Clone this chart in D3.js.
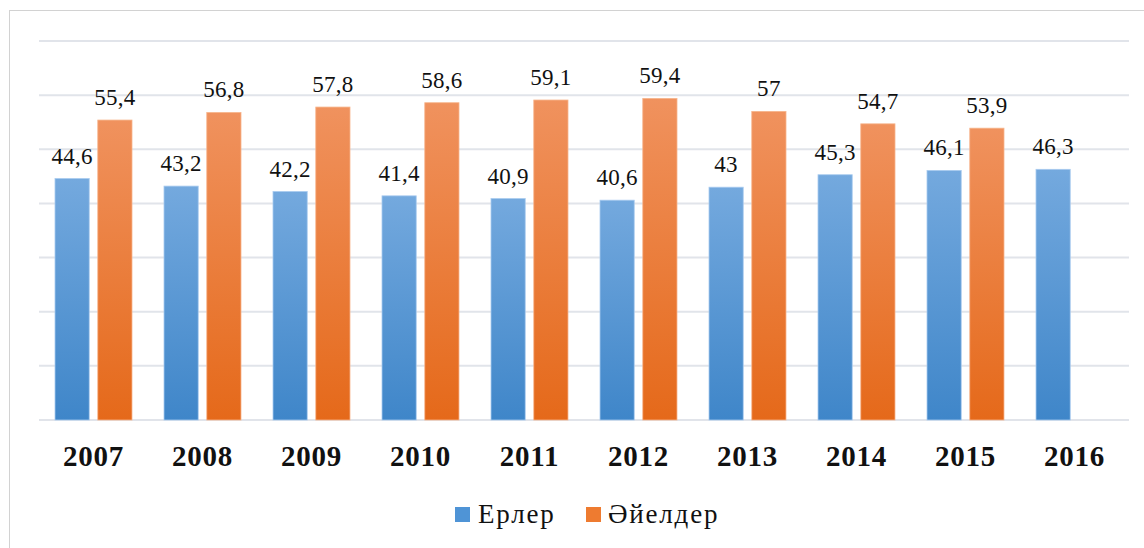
<!DOCTYPE html>
<html>
<head>
<meta charset="utf-8">
<script src="https://cdn.jsdelivr.net/npm/d3@7"></script>
<style>
  body { margin: 0; background: #fff; }
  svg { display: block; }
</style>
</head>
<body>
<svg width="1144" height="548"></svg>
<script>
const years = ["2007", "2008", "2009", "2010", "2011", "2012", "2013", "2014", "2015", "2016"];
const men = [44.6, 43.2, 42.2, 41.4, 40.9, 40.6, 43, 45.3, 46.1, 46.3];
const women = [55.4, 56.8, 57.8, 58.6, 59.1, 59.4, 57, 54.7, 53.9, null];
const seriesNames = ["Ерлер", "Әйелдер"];
const gridTicks = [0, 10, 20, 30, 40, 50, 60, 70];

const FONT = "Liberation Serif";
const svg = d3.select("svg");

// gradients for the bars
const defs = svg.append("defs");
const grads = [
	{ id: "gBlue", top: "#74a9de", bottom: "#3f86c9" },
	{ id: "gOrange", top: "#f0925e", bottom: "#e5691a" },
];
grads.forEach((g) => {
	const lg = defs.append("linearGradient").attr("id", g.id)
		.attr("x1", 0).attr("y1", 0).attr("x2", 0).attr("y2", 1);
	lg.append("stop").attr("offset", "0%").attr("stop-color", g.top);
	lg.append("stop").attr("offset", "100%").attr("stop-color", g.bottom);
});

// outer frame
svg.append("rect")
	.attr("x", 9.5).attr("y", 10.5)
	.attr("width", 1150).attr("height", 560)
	.attr("fill", "none")
	.attr("stroke", "#d2d2d2")
	.attr("stroke-width", 1);

const x0 = d3.scaleBand().domain(years).range([39, 1129]).paddingInner(0).paddingOuter(0);
const x1 = d3.scaleBand().domain([0, 1]).range([16, x0.bandwidth() - 16]).paddingInner(0.2);
const y = d3.scaleLinear().domain([0, 70]).range([420, 41]);

// gridlines
svg.append("g")
	.selectAll("line")
	.data(gridTicks)
	.enter()
	.append("line")
	.attr("x1", 39).attr("x2", 1129)
	.attr("y1", (d) => y(d)).attr("y2", (d) => y(d))
	.attr("stroke", "#e1e4ea")
	.attr("stroke-width", 2);

const rows = [];
years.forEach((yr, i) => {
	[men[i], women[i]].forEach((v, s) => {
		if (v !== null) rows.push({ year: yr, s: s, value: v });
	});
});

const fmt = (v) => String(v).replace(".", ",");

svg.append("g")
	.selectAll(".bar")
	.data(rows)
	.enter()
	.append("rect")
	.classed("bar", true)
	.attr("x", (d) => x0(d.year) + x1(d.s))
	.attr("y", (d) => y(d.value))
	.attr("width", x1.bandwidth())
	.attr("height", (d) => y(0) - y(d.value))
	.attr("fill", (d) => (d.s === 0 ? "url(#gBlue)" : "url(#gOrange)"))
	.attr("stroke", (d) => (d.s === 0 ? "#a9cbef" : "#f7b58c"))
	.attr("stroke-width", 0.8);

svg.append("g")
	.selectAll("text")
	.data(rows)
	.enter()
	.append("text")
	.attr("x", (d) => x0(d.year) + x1(d.s) + x1.bandwidth() / 2)
	.attr("y", (d) => y(d.value) - 15)
	.attr("text-anchor", "middle")
	.attr("font-family", FONT)
	.attr("font-size", 23)
	.attr("letter-spacing", 0.3)
	.attr("fill", "#111")
	.text((d) => fmt(d.value));

// x axis labels
const xAxis = svg.append("g")
	.attr("transform", "translate(0,420)")
	.call(d3.axisBottom(x0).tickSize(0).tickPadding(0));
xAxis.select(".domain").remove();
xAxis.selectAll("text")
	.attr("y", 46)
	.attr("dy", 0)
	.attr("font-family", FONT)
	.attr("font-size", 29)
	.attr("font-weight", "bold")
	.attr("letter-spacing", 0.8)
	.attr("fill", "#111");

// legend
const legend = svg.append("g");
const legendItems = [
	{ name: seriesNames[0], color: "#4f94d6", x: 455, tx: 478 },
	{ name: seriesNames[1], color: "#ee7b30", x: 586, tx: 608 },
];
legendItems.forEach((it) => {
	legend.append("rect")
		.attr("x", it.x).attr("y", 507)
		.attr("width", 15).attr("height", 15)
		.attr("fill", it.color);
	legend.append("text")
		.attr("x", it.tx).attr("y", 523)
		.attr("font-family", FONT)
		.attr("font-size", 27)
		.attr("letter-spacing", 1.8)
		.attr("fill", "#111")
		.text(it.name);
});
</script>
</body>
</html>
